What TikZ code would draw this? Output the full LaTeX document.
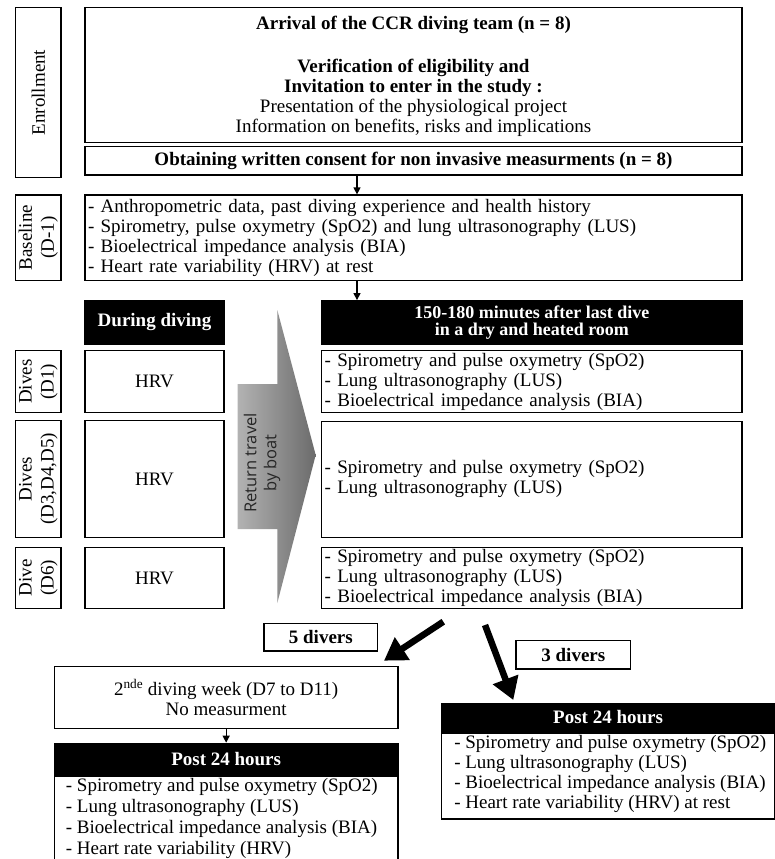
\documentclass[tikz,border=0pt]{standalone}
\usepackage{fontspec}
\setmainfont{Liberation Serif}
\newfontfamily\boatfont{Open Sans}
\usetikzlibrary{arrows.meta}
\begin{document}
\begin{tikzpicture}[x=1pt,y=-1pt,
  font=\fontsize{19}{20}\selectfont,
  box/.style={draw, line width=1.2pt, inner sep=0pt, align=center},
  lst/.style={box, align=left},
  blk/.style={draw, fill=black, text=white, line width=1.2pt, inner sep=0pt, align=center, font=\fontsize{19}{20}\selectfont\bfseries},
  lbl/.style={box, rotate=90},
  inner/.style={align=left, anchor=north west, inner sep=0pt},
  tarrow/.style={line width=1.2pt, -{Triangle[length=7pt,width=7pt]}},
  bigarrow/.style={line width=6.5pt, -{Triangle[length=22pt,width=26pt]}}]
\useasboundingbox[fill=white] (0,0) rectangle (775,859);

% left labels
\node[lbl, minimum width=170.4, minimum height=45.3] (enr) at (38.35,92.5) {Enrollment};
\node[lbl, minimum width=85.5, minimum height=45.3, font=\fontsize{19}{22}\selectfont] (bl) at (38.35,237.75) {Baseline\\(D-1)};
\node[lbl, minimum width=62, minimum height=45.3, font=\fontsize{19}{22}\selectfont] (l1) at (38.35,381.7) {Dives\\(D1)};
\node[lbl, minimum width=116.6, minimum height=45.3, font=\fontsize{19}{22}\selectfont] (l3) at (38.35,479) {Dives\\(D3,D4,D5)};
\node[lbl, minimum width=61.4, minimum height=45.3, font=\fontsize{19}{22}\selectfont] (l6) at (38.35,578) {Dive\\(D6)};

% enrollment
\node[box, minimum width=657, minimum height=135] (top) at (413.5,74.8) {};
\node[align=center, anchor=north, inner sep=0pt] (toptxt) at ([yshift=-9pt]top.north)
  {\textbf{Arrival of the CCR diving team (n = 8)}\\[23pt]
   \textbf{Verification of eligibility and}\\
   \textbf{Invitation to enter in the study :}\\
   Presentation of the physiological project\\
   Information on benefits, risks and implications};
\node[box, minimum width=657, minimum height=28.3, font=\fontsize{19}{20}\selectfont\bfseries] (cons) at (413.5,160.85)
  {Obtaining written consent for non invasive measurments (n = 8)};

% baseline
\node[lst, minimum width=657, minimum height=85.5, text width=651, inner xsep=3] (base) at (413.5,237.75)
  {- Anthropometric data, past diving experience and health history\\
   - Spirometry, pulse oxymetry (SpO2) and lung ultrasonography (LUS)\\
   - Bioelectrical impedance analysis (BIA)\\
   - Heart rate variability (HRV) at rest};

% headers
\node[blk, minimum width=139, minimum height=43.3] (during) at (154.5,322.35) {During diving};
\node[blk, minimum width=420.3, minimum height=43.3, font=\fontsize{18}{17}\selectfont\bfseries] (after) at (531.85,322.35)
  {150-180 minutes after last dive\\in a dry and heated room};

% HRV column
\node[box, minimum width=139, minimum height=62] (h1) at (154.5,381.7) {HRV};
\node[box, minimum width=139, minimum height=116.6] (h3) at (154.5,479) {HRV};
\node[box, minimum width=139, minimum height=61.4] (h6) at (154.5,578) {HRV};

% right column
\node[lst, minimum width=420.3, minimum height=62, text width=414.3, inner xsep=3] (r1) at (531.85,381.7)
  {- Spirometry and pulse oxymetry (SpO2)\\
   - Lung ultrasonography (LUS)\\
   - Bioelectrical impedance analysis (BIA)};
\node[lst, minimum width=420.3, minimum height=115.8, text width=414.3, inner xsep=3] (r3) at (531.85,479.4)
  {- Spirometry and pulse oxymetry (SpO2)\\
   - Lung ultrasonography (LUS)};
\node[lst, minimum width=420.3, minimum height=61.4, text width=414.3, inner xsep=3] (r6) at (531.85,578)
  {- Spirometry and pulse oxymetry (SpO2)\\
   - Lung ultrasonography (LUS)\\
   - Bioelectrical impedance analysis (BIA)};

% return travel arrow
\path[left color=black!30, right color=black!58, shading angle=90]
  (237.7,384) -- (277.3,384) -- (277.3,310) -- (315.7,455) -- (277.3,603)
  -- (277.3,529) -- (237.7,529) -- cycle;
\node[rotate=90, align=center, text=black!85, font=\boatfont\fontsize{16.5}{20}\selectfont] (boat) at (262,463)
  {Return travel\\by boat};

% thin arrows
\draw[tarrow] ([xshift=-56.5pt]cons.south) -- ([xshift=-56.5pt]base.north);
\draw[tarrow] ([xshift=-56.5pt]base.south) -- ([xshift=-56.5pt]base.south |- after.north);

% split
\node[box, minimum width=113.7, minimum height=27.7, font=\fontsize{19}{20}\selectfont\bfseries] (five) at (320.85,637.15) {5 divers};
\node[box, minimum width=114.7, minimum height=28.3, font=\fontsize{19}{20}\selectfont\bfseries] (three) at (573.35,654.85) {3 divers};
\coordinate (t1s) at (443.3,621.7);
\coordinate (t1e) at (384,660.7);
\coordinate (t2s) at (485,625);
\coordinate (t2e) at (513.3,700);
\draw[bigarrow] (t1s) -- (t1e);
\draw[bigarrow] (t2s) -- (t2e);

% left branch
\node[box, minimum width=343.7, minimum height=61.6] (week) at (226.15,697.5)
  {2\textsuperscript{nde} diving week (D7 to D11)\\No measurment};
\node[blk, minimum width=343.7, minimum height=31.7] (plh) at (226.15,759.15) {Post 24 hours};
\node[box, minimum width=343.7, minimum height=100, anchor=north] (plb) at (plh.south) {};
\node[inner, font=\fontsize{19}{21}\selectfont] (plt) at ([xshift=12pt,yshift=-3pt]plb.north west)
  {- Spirometry and pulse oxymetry (SpO2)\\
   - Lung ultrasonography (LUS)\\
   - Bioelectrical impedance analysis (BIA)\\
   - Heart rate variability (HRV)};
\draw[tarrow] (week.south) -- (plh.north);

% right branch
\node[blk, minimum width=332.8, minimum height=28.4] (prh) at (608.1,717.5) {Post 24 hours};
\node[box, minimum width=332.8, minimum height=86, anchor=north] (prb) at (prh.south) {};
\node[inner, font=\fontsize{19}{20}\selectfont] (prt) at ([xshift=13pt,yshift=-3pt]prb.north west)
  {- Spirometry and pulse oxymetry (SpO2)\\
   - Lung ultrasonography (LUS)\\
   - Bioelectrical impedance analysis (BIA)\\
   - Heart rate variability (HRV) at rest};
\end{tikzpicture}
\end{document}
